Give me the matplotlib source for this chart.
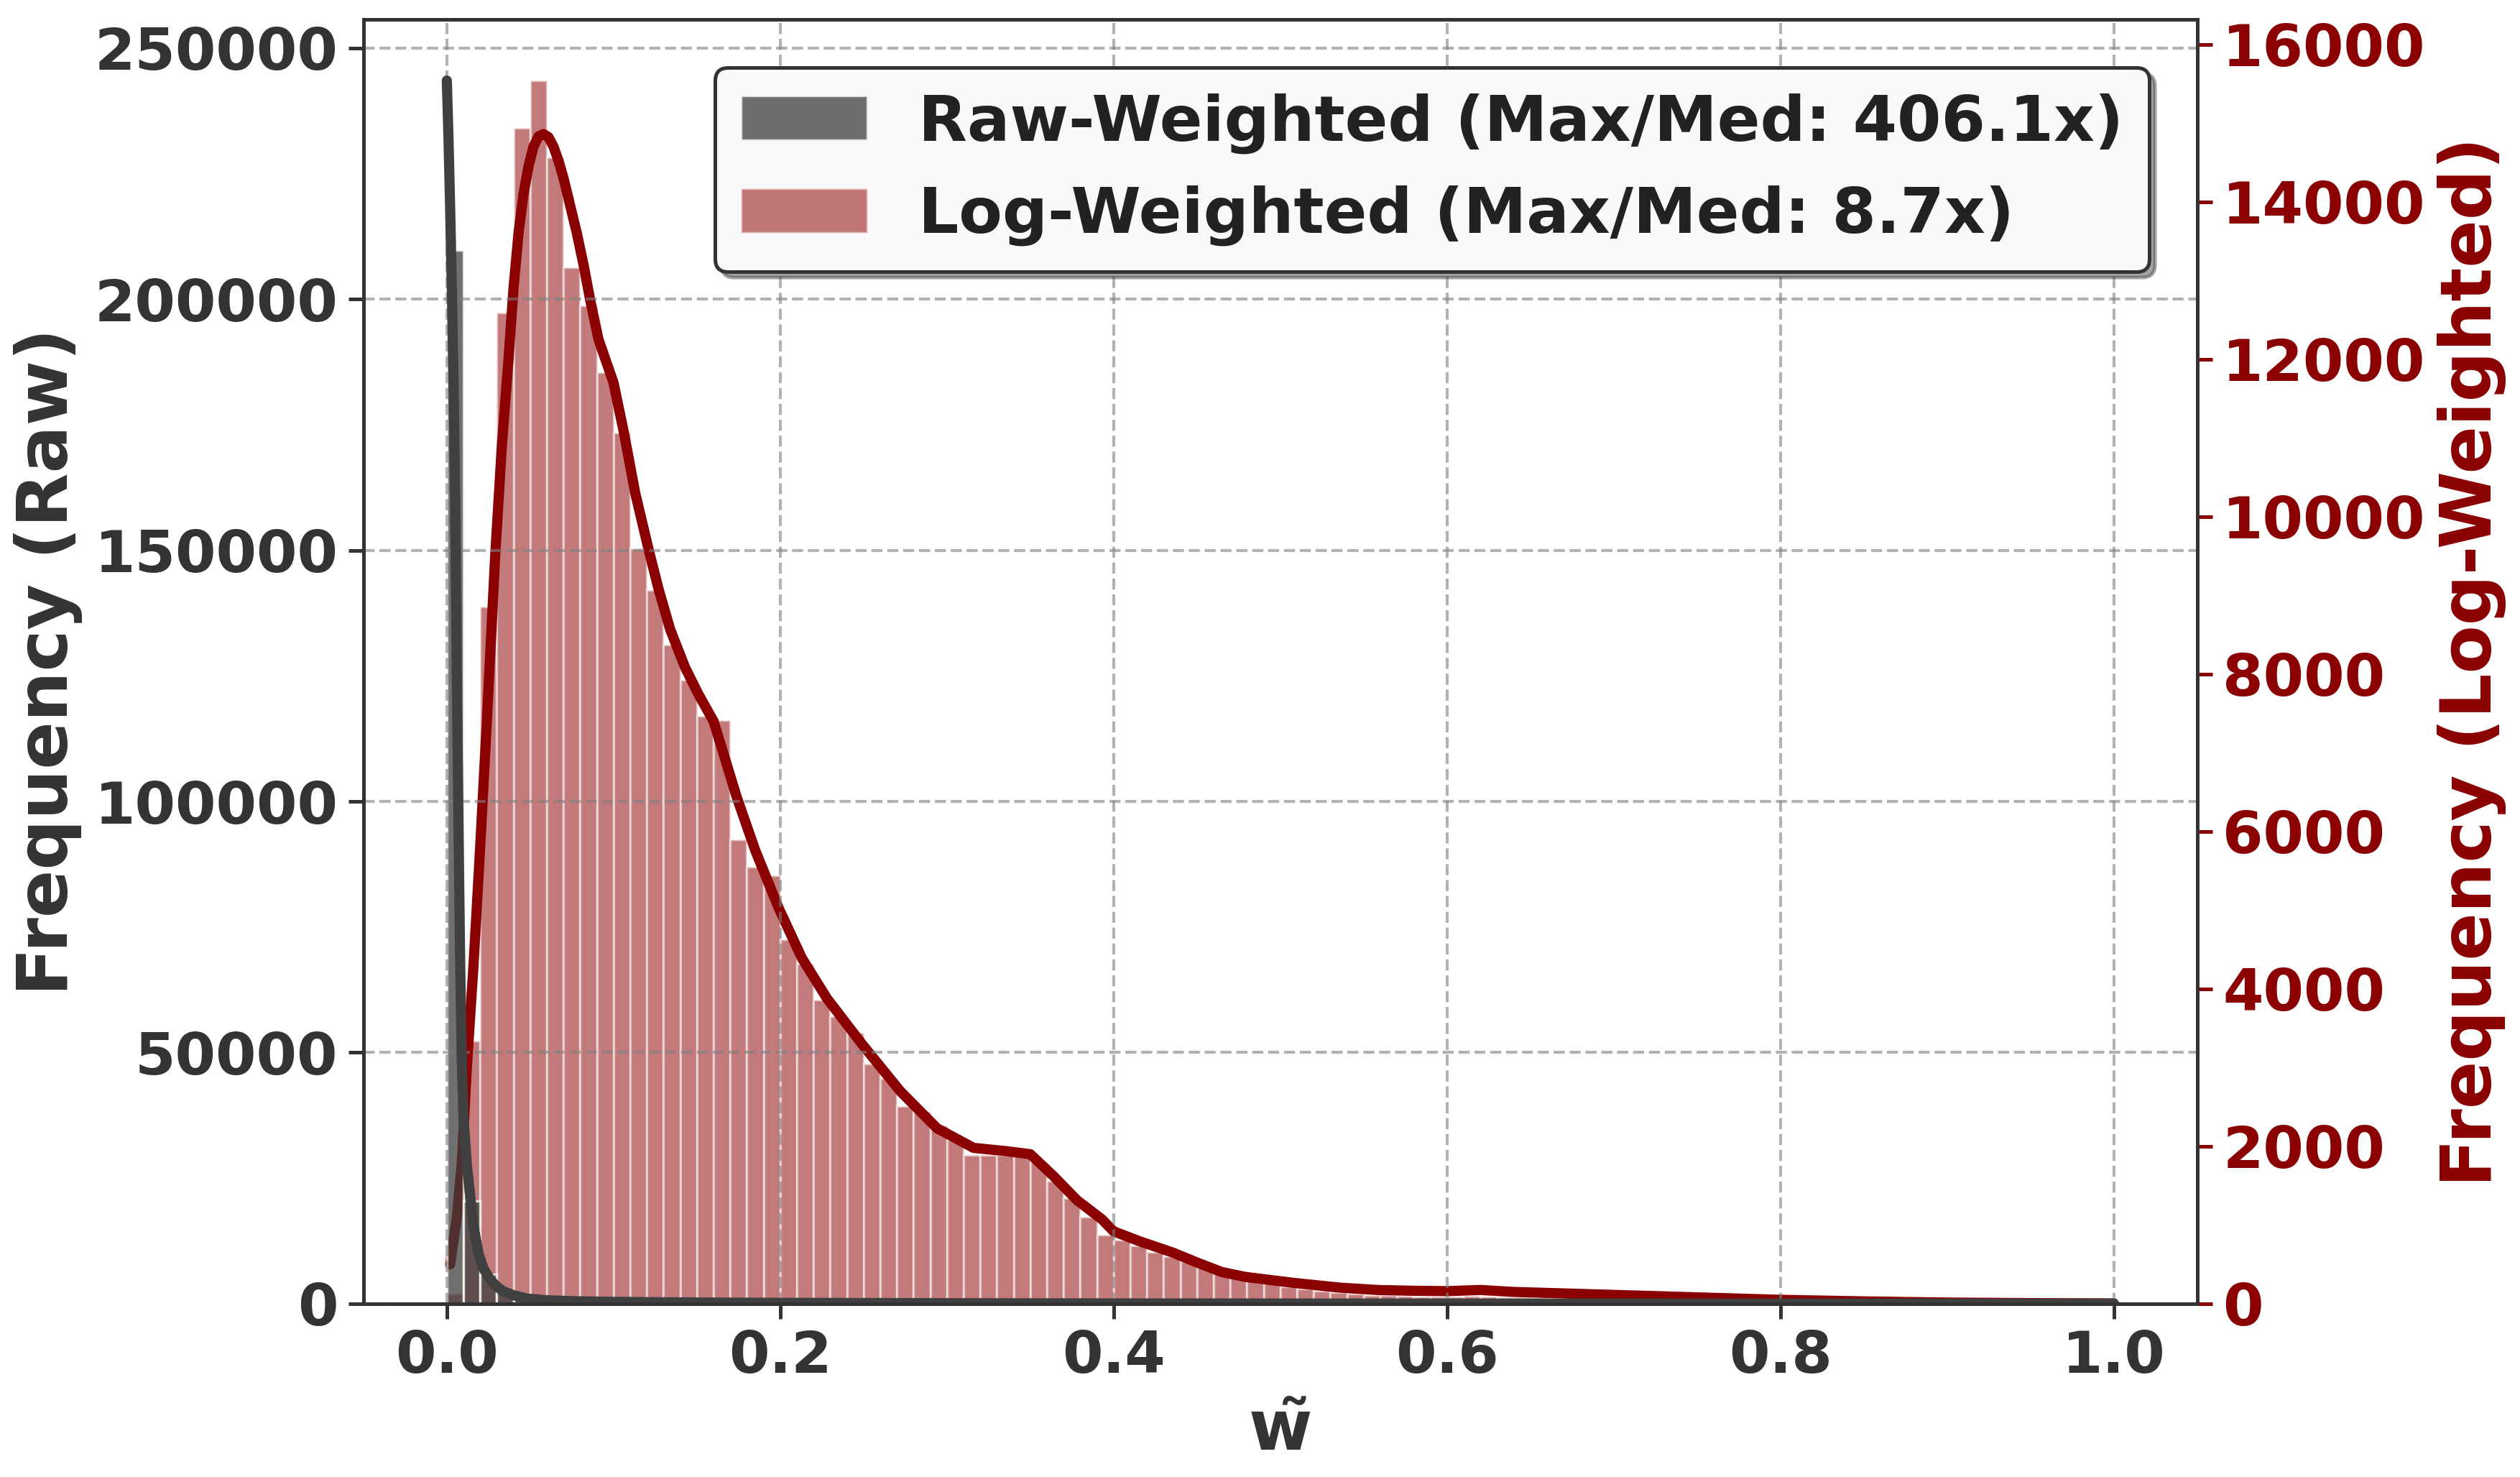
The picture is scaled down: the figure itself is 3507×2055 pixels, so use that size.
import numpy as np
import matplotlib
matplotlib.use("Agg")
import matplotlib.pyplot as plt

plt.rcParams["font.family"] = ["DejaVu Sans"]
plt.rcParams["font.weight"] = "bold"
plt.rcParams["axes.labelweight"] = "bold"

# ---------------- data ----------------
bin_width = 0.01
bin_left = [round(i * bin_width, 2) for i in range(100)]

raw_counts = [209700, 20500, 5850, 2500, 1200, 700, 450, 300, 220, 160,
              120, 100, 90, 80, 70, 60, 55, 50, 45, 40,
              36, 33, 30, 28, 26, 24, 22, 20, 19, 18,
              17, 16, 15, 14, 13, 12, 12, 11, 11, 10,
              10, 9, 9, 8, 8, 8, 7, 7, 7, 6,
              6, 6, 5, 5, 5, 5, 4, 4, 4, 4,
              4, 3, 3, 3, 3, 3, 3, 2, 2, 2,
              2, 2, 2, 2, 2, 2, 1, 1, 1, 1,
              1, 1, 1, 1, 1, 1, 1, 1, 1, 1,
              1, 1, 1, 1, 1, 1, 1, 1, 1, 1]

log_counts = [130, 3340, 8855, 12590, 14940, 15540, 14560, 13170, 12680, 11830,
              11070, 9600, 9070, 8370, 7925, 7470, 7410, 5900, 5550, 5440,
              4630, 4320, 3860, 3650, 3440, 3050, 2870, 2510, 2440, 2260,
              2080, 1890, 1890, 1890, 1940, 1800, 1560, 1340, 1100, 875,
              813, 737, 661, 600, 539, 478, 402, 341, 295, 265,
              219, 195, 167, 142, 128, 112, 105, 98, 92, 90,
              95, 100, 95, 85, 78, 72, 66, 61, 56, 52,
              48, 44, 40, 37, 34, 31, 28, 25, 22, 20,
              18, 16, 14, 12, 11, 10, 9, 8, 7, 6,
              5, 5, 4, 4, 3, 3, 2, 2, 2, 2]

raw_kde_x = [0.0, 0.001, 0.002, 0.003, 0.004, 0.005, 0.006, 0.007, 0.008, 0.009,
             0.010, 0.012, 0.014, 0.016, 0.019, 0.022, 0.026, 0.030, 0.034, 0.040,
             0.048, 0.060, 0.077, 0.10, 0.15, 0.20, 0.30, 0.40, 0.50, 0.60, 0.80, 1.0]
raw_kde_y = [243500, 232000, 218000, 202000, 184000, 160000, 125000, 95000, 68000, 48000,
             37000, 27700, 21500, 15500, 10000, 7000, 4850, 3400, 2470, 1700,
             1040, 700, 500, 380, 250, 180, 110, 70, 50, 35, 20, 10]

log_kde_x = [0.002, 0.006, 0.009, 0.012, 0.016, 0.020, 0.024, 0.029, 0.033, 0.037,
             0.040, 0.043, 0.046, 0.049, 0.052, 0.055, 0.058, 0.061, 0.064, 0.067,
             0.070, 0.074, 0.078, 0.082, 0.086, 0.091,
             0.100, 0.106, 0.113, 0.121, 0.127, 0.134, 0.143, 0.151, 0.160, 0.174,
             0.185, 0.199, 0.213, 0.228, 0.249, 0.272, 0.294, 0.316, 0.335, 0.350,
             0.364, 0.378, 0.393, 0.400, 0.415, 0.436, 0.450, 0.465, 0.479, 0.508,
             0.536, 0.559, 0.580, 0.600, 0.620, 0.640, 0.680, 0.720, 0.760, 0.800,
             0.850, 0.900, 0.950, 1.0]
log_kde_y = [500, 1100, 1800, 3000, 4300, 5800, 7400, 9500, 10900, 12000,
             12900, 13600, 14100, 14450, 14700, 14830, 14860, 14820, 14700, 14520,
             14300, 13950, 13600, 13200, 12750, 12250,
             11700, 11090, 10300, 9585, 9080, 8565, 8080, 7740, 7400, 6430,
             5760, 5030, 4390, 3880, 3300, 2700, 2230, 1980, 1940, 1900,
             1620, 1316, 1072, 920, 798, 646, 524, 402, 341, 265,
             204, 174, 165, 160, 175, 150, 125, 100, 75, 50,
             30, 15, 8, 4]

raw_label = "Raw-Weighted (Max/Med: 406.1x)"
log_label = "Log-Weighted (Max/Med: 8.7x)"
x_ticks = [0.0, 0.2, 0.4, 0.6, 0.8, 1.0]
left_ticks = [0, 50000, 100000, 150000, 200000, 250000]
right_ticks = [0, 2000, 4000, 6000, 8000, 10000, 12000, 14000, 16000]

# ---------------- styling ----------------
GRAY = "#404040"
TXT = "#333333"
RED = "#8B0000"

fig = plt.figure(figsize=(11.693, 6.85), dpi=300)
ax1 = fig.add_axes([0.1442, 0.1173, 0.7275, 0.8696])
ax2 = ax1.twinx()
ax1.set_zorder(ax2.get_zorder() + 1)
ax1.patch.set_visible(False)

# log-weighted (right axis)
b2 = ax2.bar(bin_left, log_counts, width=bin_width, align="edge", color=RED,
             alpha=0.52, edgecolor="white", linewidth=0.8, label=log_label)
ax2.plot(log_kde_x, log_kde_y, color=RED, lw=3.4, solid_capstyle="round",
         solid_joinstyle="round")

# raw-weighted (left axis)
b1 = ax1.bar(bin_left, raw_counts, width=bin_width, align="edge", color=GRAY,
             alpha=0.75, edgecolor="white", linewidth=0.8, label=raw_label)
ax1.plot(raw_kde_x, raw_kde_y, color=GRAY, lw=3.4, solid_capstyle="round",
         solid_joinstyle="round")

ax1.grid(True, linestyle="--", color="gray", alpha=0.6, lw=1.0)
ax2.grid(False)

ax1.set_xticks(x_ticks)
ax1.set_xticklabels([f"{t:.1f}" for t in x_ticks])
ax1.set_yticks(left_ticks)
ax1.set_yticklabels([str(t) for t in left_ticks])
ax2.set_yticks(right_ticks)
ax2.set_yticklabels([str(t) for t in right_ticks])

ax1.tick_params(axis="x", labelsize=19.5, colors=TXT, width=1.2, length=5)
ax1.tick_params(axis="y", labelsize=19.5, colors=TXT, width=1.2, length=5)
ax2.tick_params(axis="y", labelsize=19.5, colors=RED, width=1.2, length=5)

ax1.set_xlabel("w\u0303", fontsize=23, color=TXT, fontweight="bold")
ax1.set_ylabel("Frequency (Raw)", fontsize=23.5, color=TXT, fontweight="bold")
ax2.set_ylabel("Frequency (Log-Weighted)", fontsize=23.5, color=RED, fontweight="bold")

for ax in (ax1, ax2):
    for s in ax.spines.values():
        s.set_color(TXT)
        s.set_linewidth(1.2)

leg = ax1.legend(handles=[b1, b2], labels=[raw_label, log_label],
                 loc="upper right", bbox_to_anchor=(0.9737, 0.9625),
                 fontsize=21.2, frameon=True, fancybox=True, shadow=True,
                 framealpha=1.0, borderaxespad=0.0)
leg.get_frame().set_facecolor("#f9f9f9")
leg.get_frame().set_edgecolor(TXT)
leg.get_frame().set_linewidth(1.2)
for t in leg.get_texts():
    t.set_color("#222222")

fig.savefig("out.png", dpi=300)
